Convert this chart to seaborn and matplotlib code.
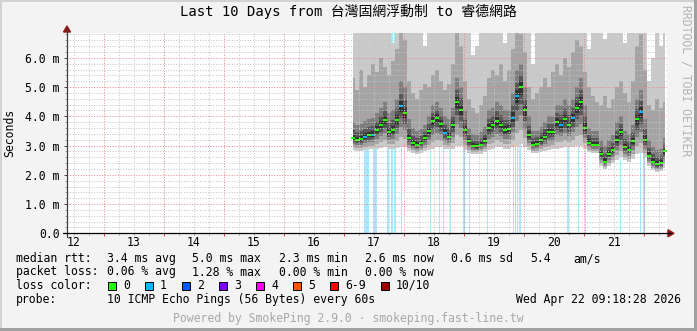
import numpy as np
import pandas as pd
import matplotlib
matplotlib.use("Agg")
import matplotlib.pyplot as plt
import matplotlib.dates as mdates
from matplotlib.ticker import MultipleLocator, NullFormatter
from matplotlib.lines import Line2D
from matplotlib.patches import Rectangle, Polygon
import seaborn as sns

sns.set_theme(style="white")
plt.rcParams['font.family'] = ['DejaVu Sans Mono', 'Noto Sans CJK TC']
plt.rcParams['text.color'] = 'black'

# ---------------- data ----------------
TITLE = "Last 10 Days from 台灣固網浮動制 to 睿德網路"
window_start = "2026-04-12 09:18:28"
window_end = "2026-04-22 09:18:28"
sample_start = "2026-04-17 03:42"
sample_step = "96min"

median_ms = [3.25, 3.20, 3.22, 3.30, 3.35, 3.37, 3.54, 3.71, 3.88, 3.45,
             3.54, 3.88, 4.35, 4.10, 3.25, 3.08, 3.02, 3.10, 3.25, 3.50,
             3.85, 3.94, 3.75, 3.43, 3.31, 3.70, 4.50, 4.22, 3.54, 3.14,
             2.99, 2.97, 3.03, 3.15, 3.60, 3.70, 3.85, 3.70, 3.54, 3.55,
             3.95, 4.70, 5.02, 4.20, 3.35, 3.02, 3.06, 3.19, 3.31, 3.45,
             3.45, 3.80, 3.72, 3.90, 3.70, 3.95, 4.30, 4.50, 3.60, 3.10,
             3.03, 3.02, 2.70, 2.45, 2.72, 2.85, 3.20, 3.45, 2.95, 2.85,
             3.15, 3.90, 4.15, 3.20, 2.65, 2.45, 2.36, 2.40, 2.80]

lost_pings = [0, 0, 0, 1, 0, 1, 0, 0, 0, 0,
              0, 0, 1, 0, 0, 0, 0, 0, 0, 0,
              0, 0, 0, 1, 0, 0, 0, 0, 0, 0,
              0, 0, 0, 0, 0, 0, 0, 0, 0, 0,
              1, 1, 0, 0, 0, 0, 0, 0, 0, 0,
              0, 0, 1, 0, 0, 1, 0, 0, 0, 0,
              0, 0, 0, 0, 0, 0, 0, 0, 0, 0,
              0, 0, 1, 0, 0, 0, 0, 0, 0]

low_ms = [2.85, 2.83, 2.83, 2.85, 2.87, 2.88, 2.90, 2.92, 2.95, 2.90,
          2.90, 2.93, 2.95, 2.95, 2.80, 2.75, 2.72, 2.75, 2.80, 2.85,
          2.90, 2.95, 2.95, 2.90, 2.88, 2.90, 3.00, 3.00, 2.85, 2.75,
          2.70, 2.70, 2.72, 2.78, 2.85, 2.90, 2.95, 2.95, 2.90, 2.90,
          2.95, 3.00, 3.05, 2.95, 2.85, 2.75, 2.75, 2.78, 2.82, 2.85,
          2.88, 2.90, 2.92, 2.95, 2.95, 2.95, 3.00, 3.00, 2.90, 2.78,
          2.75, 2.75, 2.30, 2.20, 2.30, 2.40, 2.50, 2.60, 2.50, 2.45,
          2.55, 2.70, 2.75, 2.60, 2.30, 2.15, 2.10, 2.12, 2.25]

dark_top_ms = [3.80, 3.70, 3.75, 3.85, 3.90, 3.95, 4.10, 4.30, 4.50, 4.10,
               4.20, 4.60, 5.20, 5.00, 3.90, 3.60, 3.50, 3.55, 3.70, 4.00,
               4.40, 4.50, 4.30, 4.00, 3.90, 4.30, 5.30, 5.00, 4.20, 3.60,
               3.40, 3.35, 3.45, 3.65, 4.20, 4.30, 4.50, 4.40, 4.20, 4.20,
               4.80, 5.60, 5.80, 5.00, 4.00, 3.50, 3.50, 3.65, 3.80, 4.00,
               4.00, 4.40, 4.40, 4.60, 4.40, 4.60, 5.00, 5.30, 4.40, 3.60,
               3.50, 3.50, 3.20, 3.00, 3.20, 3.35, 3.80, 4.00, 3.50, 3.40,
               3.70, 4.60, 4.90, 3.90, 3.20, 2.95, 2.85, 2.90, 3.25]

mid_top_ms = [5.30, 4.90, 5.60, 5.00, 5.40, 5.80, 5.50, 6.00, 5.70, 5.40,
              5.90, 6.30, 7.00, 6.60, 5.20, 4.80, 4.60, 4.90, 5.10, 5.00,
              5.40, 5.60, 5.20, 4.90, 5.10, 5.80, 6.90, 6.40, 5.20, 4.60,
              4.30, 4.10, 4.40, 4.70, 5.30, 5.60, 5.40, 5.80, 5.20, 5.60,
              6.30, 7.00, 6.80, 6.20, 5.00, 4.60, 4.80, 5.00, 5.30, 5.00,
              5.50, 5.80, 5.40, 6.00, 5.70, 6.20, 6.60, 6.40, 5.50, 5.00,
              4.70, 4.50, 4.40, 4.70, 4.30, 4.60, 5.00, 5.20, 4.80, 4.50,
              5.20, 6.40, 6.80, 5.60, 4.40, 4.20, 4.60, 4.30, 4.50]

max_ms = [7.0, 7.0, 7.0, 7.0, 7.0, 7.0, 7.0, 7.0, 7.0, 7.0,
          6.5, 7.0, 7.0, 7.0, 7.0, 7.0, 7.0, 7.0, 6.4, 7.0,
          7.0, 7.0, 7.0, 7.0, 7.0, 7.0, 7.0, 7.0, 7.0, 7.0,
          6.1, 6.4, 7.0, 7.0, 7.0, 7.0, 7.0, 7.0, 6.5, 7.0,
          7.0, 7.0, 7.0, 7.0, 7.0, 5.8, 7.0, 7.0, 7.0, 7.0,
          7.0, 7.0, 7.0, 7.0, 7.0, 7.0, 7.0, 7.0, 7.0, 6.3,
          7.0, 7.0, 7.0, 6.65, 7.0, 7.0, 7.0, 7.0, 6.5, 7.0,
          7.0, 7.0, 7.0, 7.0, 5.2, 6.0, 7.0, 6.4, 7.0]

loss_bar_times = ["2026-04-17 09:06", "2026-04-17 12:30", "2026-04-17 17:48",
                  "2026-04-17 19:15", "2026-04-17 20:30", "2026-04-17 23:12",
                  "2026-04-18 10:48", "2026-04-18 14:24", "2026-04-18 16:00",
                  "2026-04-18 18:36", "2026-04-19 00:03", "2026-04-19 02:24",
                  "2026-04-19 09:24", "2026-04-19 19:48", "2026-04-19 20:48",
                  "2026-04-19 21:36", "2026-04-19 22:30", "2026-04-20 17:42",
                  "2026-04-20 22:00", "2026-04-21 00:36", "2026-04-21 14:36",
                  "2026-04-21 22:36", "2026-04-22 00:06"]
loss_bar_minutes = [120, 96, 48, 42, 30, 30, 30, 30, 30, 30, 42, 30,
                    30, 30, 30, 30, 30, 30, 30, 30, 30, 30, 30]

day_labels = ["12", "13", "14", "15", "16", "17", "18", "19", "20", "21"]
y_tick_values = [0, 1, 2, 3, 4, 5, 6]
y_tick_labels = ["0.0", "1.0 m", "2.0 m", "3.0 m", "4.0 m", "5.0 m", "6.0 m"]

legend_rtt = [("median rtt:", 16), ("3.4 ms avg", 107), ("5.0 ms max", 192),
              ("2.3 ms min", 279), ("2.6 ms now", 365), ("0.6 ms sd", 451),
              ("5.4", 530), ("am/s", 573)]
legend_loss = [("packet loss:", 16), ("0.06 % avg", 107), ("1.28 % max", 192),
               ("0.00 % min", 279), ("0.00 % now", 365)]
loss_color_labels = ["0", "1", "2", "3", "4", "5", "6-9", "10/10"]
loss_color_values = ["#26ff00", "#00b8ff", "#0059ff", "#7e00ff",
                     "#ff00ff", "#ff5500", "#ff0000", "#a10000"]
probe_text = "10 ICMP Echo Pings (56 Bytes) every 60s"
stamp_text = "Wed Apr 22 09:18:28 2026"
footer_text = "Powered by SmokePing 2.9.0 · smokeping.fast-line.tw"

# ---------------- figure ----------------
W, H = 697, 331
fig = plt.figure(figsize=(W / 100, H / 100), dpi=100, facecolor="#f3f3f3")

def fx(px):
    return px / W

def fy(py):
    return 1 - py / H

PL, PR, PT, PB = 67, 667, 33, 233.3
ax = fig.add_axes([fx(PL), fy(PB), fx(PR - PL), (PB - PT) / H])
ax.set_facecolor("white")

t = pd.date_range(sample_start, periods=len(median_ms), freq=sample_step)
tn = mdates.date2num(t.to_pydatetime())
half = (pd.Timedelta(sample_step) / pd.Timedelta("1D")) / 2

md = np.array(median_ms)
lo = np.array(low_ms)
dk = np.array(dark_top_ms)
mt = np.array(mid_top_ms)
mx = np.array(max_ms)
lo_span = md - lo
hi_span = dk - md

# loss bars (behind the smoke)
for ts, mins in zip(loss_bar_times, loss_bar_minutes):
    c = mdates.date2num(pd.Timestamp(ts).to_pydatetime())
    w = mins / 1440.0
    ax.axvspan(c - w / 2, c + w / 2, color="#aae8fd", lw=0, zorder=1.0)

# smoke bands, outer to inner
bands = [
    (lo, mx, "#cacaca"),
    (lo + 0.25 * lo_span, mt, "#a4a4a4"),
    (lo + 0.50 * lo_span, dk, "#7e7e7e"),
    (lo + 0.70 * lo_span, md + 0.5 * hi_span, "#585858"),
    (lo + 0.85 * lo_span, md + 0.22 * hi_span, "#323232"),
]
for i, (a, b, c) in enumerate(bands):
    ax.fill_between(tn, a, b, step="mid", color=c, lw=0, zorder=1.2 + i * 0.1)

# median, coloured by loss
med_colors = [loss_color_values[min(n, 7)] for n in lost_pings]
ax.hlines(md, tn - half * 0.8, tn + half * 0.8, colors=med_colors, linewidth=1.5, zorder=2.3)

ax.set_xlim(mdates.date2num(pd.Timestamp(window_start).to_pydatetime()),
            mdates.date2num(pd.Timestamp(window_end).to_pydatetime()))
ax.set_ylim(0, 6.85)
ax.xaxis_date()

ax.xaxis.set_major_locator(mdates.HourLocator(byhour=[0]))
ax.xaxis.set_minor_locator(mdates.HourLocator(byhour=[6, 12, 18]))
ax.xaxis.set_major_formatter(NullFormatter())
ax.xaxis.set_minor_formatter(NullFormatter())
ax.set_yticks(y_tick_values, y_tick_labels)
ax.yaxis.set_minor_locator(MultipleLocator(0.2))

ax.set_axisbelow(False)
ax.grid(which="major", color="#e48c8c", linestyle=":", linewidth=0.72)
ax.grid(which="minor", color="#c4c4c4", linestyle=":", linewidth=0.72)

ax.tick_params(axis="x", which="major", direction="out", length=2.2, width=0.7,
               color="#d04040", bottom=True)
ax.tick_params(axis="x", which="minor", direction="out", length=1.5, width=0.7,
               color="#a0a0a0", bottom=True)
ax.tick_params(axis="y", which="major", direction="out", length=2.5, width=0.7,
               color="#404040", left=True, labelsize=8.3, labelcolor="black", pad=2.9)
ax.tick_params(axis="y", which="minor", direction="out", length=1.5, width=0.7,
               color="#a0a0a0", left=True)
for s in ax.spines.values():
    s.set_visible(False)

# day labels at noon
for d in day_labels:
    xn = mdates.date2num(pd.Timestamp(f"2026-04-{d} 12:00").to_pydatetime())
    ax.text(xn, -(242 - PB) / (PB - PT), d, transform=ax.get_xaxis_transform(),
            ha="center", va="center", fontsize=8.3, color="black")

# axis lines with arrows
fig.add_artist(Line2D([fx(PL), fx(PL)], [fy(237), fy(30)], color="#404040", lw=0.9))
fig.add_artist(Line2D([fx(63), fx(671)], [fy(PB), fy(PB)], color="black", lw=0.9))
fig.add_artist(Polygon([[fx(PL - 3.5), fy(32)], [fx(PL + 3.5), fy(32)], [fx(PL), fy(26)]],
                       closed=True, color="#8c1a1a", transform=fig.transFigure))
fig.add_artist(Polygon([[fx(668), fy(PB - 3.5)], [fx(668), fy(PB + 3.5)], [fx(674), fy(PB)]],
                       closed=True, color="#8c1a1a", transform=fig.transFigure))

# texts
fig.text(fx(348), fy(11), TITLE, ha="center", va="center", fontsize=10)
fig.text(fx(10), fy(133), "Seconds", rotation=90, ha="center", va="center", fontsize=8.3)
fig.text(fx(686), fy(5), "RRDTOOL / TOBI OETIKER", rotation=270, ha="center", va="top",
         fontsize=8.3, color="#b4b4b4")

rows = [258.5, 272, 285.5, 299, 318.5]
for s, x in legend_rtt:
    fig.text(fx(x), fy(rows[0]), s, ha="left", va="center", fontsize=8.3)
for s, x in legend_loss:
    fig.text(fx(x), fy(rows[1]), s, ha="left", va="center", fontsize=8.3)
fig.text(fx(16), fy(rows[2]), "loss color:", ha="left", va="center", fontsize=8.3)
box_x = [108, 145, 182, 219, 256, 293, 330, 381]
for bx, lab, col in zip(box_x, loss_color_labels, loss_color_values):
    fig.add_artist(Rectangle((fx(bx), fy(rows[2] + 4)), 8 / W, 8 / H, facecolor=col,
                             edgecolor="black", lw=0.7, transform=fig.transFigure))
    fig.text(fx(bx + 15), fy(rows[2]), lab, ha="left", va="center", fontsize=8.3)
fig.text(fx(16), fy(rows[3]), "probe:", ha="left", va="center", fontsize=8.3)
fig.text(fx(107), fy(rows[3]), probe_text, ha="left", va="center", fontsize=8.3)
fig.text(fx(681), fy(rows[3]), stamp_text, ha="right", va="center", fontsize=8.3)
fig.text(fx(348), fy(rows[4]), footer_text, ha="center", va="center", fontsize=8.3,
         color="#a8a8a8")

# frame border
fig.add_artist(Rectangle((0, 1 - 2 / H), 1, 2 / H, color="#d2d2d2", transform=fig.transFigure, lw=0))
fig.add_artist(Rectangle((0, 0), 2 / W, 1, color="#d2d2d2", transform=fig.transFigure, lw=0))
fig.add_artist(Rectangle((1 - 3 / W, 0), 3 / W, 1, color="#a0a0a0", transform=fig.transFigure, lw=0))
fig.add_artist(Rectangle((0, 0), 1, 3 / H, color="#a0a0a0", transform=fig.transFigure, lw=0))

fig.savefig("out.png", dpi=100, facecolor=fig.get_facecolor())
